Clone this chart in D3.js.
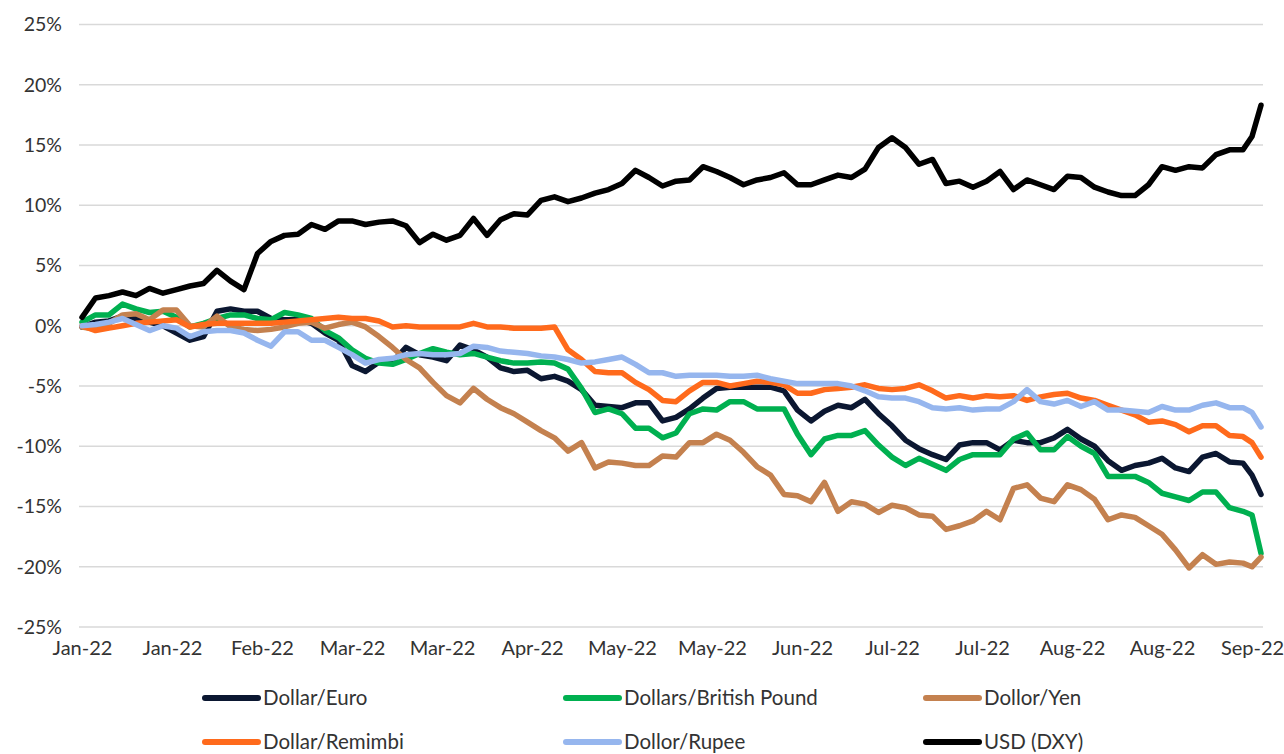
<!DOCTYPE html>
<html>
<head>
<meta charset="utf-8">
<script src="https://cdn.jsdelivr.net/npm/d3@7"></script>
<style>
  html, body { margin: 0; padding: 0; background: #ffffff; }
  svg { display: block; }
  text { font-family: Lato, "Open Sans", sans-serif; fill: #333333; }
</style>
</head>
<body>
<svg id="chart" width="1284" height="754"></svg>
<script>
// ---- data ----
const dates = [
"2022-01-03","2022-01-06","2022-01-09","2022-01-12","2022-01-15","2022-01-18","2022-01-21","2022-01-24","2022-01-27","2022-01-30",
"2022-02-02","2022-02-05","2022-02-08","2022-02-11","2022-02-14","2022-02-17","2022-02-20","2022-02-23","2022-02-26","2022-03-01",
"2022-03-04","2022-03-07","2022-03-10","2022-03-13","2022-03-16","2022-03-19","2022-03-22","2022-03-25","2022-03-28","2022-03-31",
"2022-04-03","2022-04-06","2022-04-09","2022-04-12","2022-04-15","2022-04-18","2022-04-21","2022-04-24","2022-04-27","2022-04-30",
"2022-05-03","2022-05-06","2022-05-09","2022-05-12","2022-05-15","2022-05-18","2022-05-21","2022-05-24","2022-05-27","2022-05-30",
"2022-06-02","2022-06-05","2022-06-08","2022-06-11","2022-06-14","2022-06-17","2022-06-20","2022-06-23","2022-06-26","2022-06-29",
"2022-07-02","2022-07-05","2022-07-08","2022-07-11","2022-07-14","2022-07-17","2022-07-20","2022-07-23","2022-07-26","2022-07-29",
"2022-08-01","2022-08-04","2022-08-07","2022-08-10","2022-08-13","2022-08-16","2022-08-19","2022-08-22","2022-08-25","2022-08-28",
"2022-08-31","2022-09-03","2022-09-06","2022-09-09","2022-09-12","2022-09-15","2022-09-18","2022-09-20","2022-09-22"
];

const dollarEuro = [
-0.1,0.3,0.4,0.8,0.6,0.3,0.0,-0.6,-1.2,-0.9,
1.2,1.4,1.2,1.2,0.6,0.5,0.5,0.2,-0.6,-1.2,
-3.3,-3.8,-3.0,-3.0,-1.8,-2.4,-2.6,-2.9,-1.6,-2.0,
-2.6,-3.5,-3.8,-3.7,-4.4,-4.2,-4.6,-5.3,-6.6,-6.7,
-6.8,-6.4,-6.4,-7.9,-7.6,-6.9,-6.0,-5.2,-5.1,-5.1,
-5.1,-5.1,-5.4,-7.0,-7.9,-7.1,-6.6,-6.8,-6.1,-7.3,
-8.3,-9.5,-10.2,-10.7,-11.1,-9.9,-9.7,-9.7,-10.3,-9.5,
-9.7,-9.7,-9.3,-8.6,-9.4,-10.0,-11.2,-12.0,-11.6,-11.4,
-11.0,-11.8,-12.1,-10.9,-10.6,-11.3,-11.4,-12.4,-14.0
];

const dollarPound = [
0.3,0.9,0.9,1.8,1.4,1.1,1.2,0.7,-0.1,0.2,
0.6,0.9,0.9,0.6,0.5,1.1,0.9,0.6,-0.4,-1.0,
-2.0,-2.7,-3.1,-3.2,-2.8,-2.3,-1.9,-2.2,-2.4,-2.3,
-2.6,-2.9,-3.1,-3.1,-3.0,-3.1,-3.6,-5.2,-7.2,-6.9,
-7.3,-8.5,-8.5,-9.3,-8.9,-7.3,-6.9,-7.0,-6.3,-6.3,
-6.9,-6.9,-6.9,-9.0,-10.7,-9.4,-9.1,-9.1,-8.7,-9.9,
-10.9,-11.6,-11.0,-11.5,-12.0,-11.1,-10.7,-10.7,-10.7,-9.4,
-8.9,-10.3,-10.3,-9.2,-10.0,-10.6,-12.5,-12.5,-12.5,-13.0,
-13.9,-14.2,-14.5,-13.8,-13.8,-15.1,-15.4,-15.7,-18.9
];

const dollarYen = [
-0.1,-0.3,0.2,0.9,1.0,0.5,1.3,1.3,0.0,-0.1,
0.8,-0.1,-0.3,-0.4,-0.3,-0.1,0.2,0.3,-0.2,0.1,
0.3,-0.1,-0.9,-1.8,-2.8,-3.5,-4.7,-5.8,-6.4,-5.2,
-6.1,-6.8,-7.3,-8.0,-8.7,-9.3,-10.4,-9.7,-11.8,-11.3,
-11.4,-11.6,-11.6,-10.8,-10.9,-9.7,-9.7,-9.0,-9.5,-10.5,
-11.7,-12.4,-14.0,-14.1,-14.6,-13.0,-15.4,-14.6,-14.8,-15.5,
-14.9,-15.1,-15.7,-15.8,-16.9,-16.6,-16.2,-15.4,-16.1,-13.5,
-13.2,-14.3,-14.6,-13.2,-13.6,-14.4,-16.1,-15.7,-15.9,-16.6,
-17.3,-18.6,-20.1,-19.0,-19.8,-19.6,-19.7,-20.0,-19.2
];

const dollarRenminbi = [
0.0,-0.4,-0.2,0.0,0.2,0.3,0.4,0.5,-0.1,0.1,
0.2,0.2,0.2,0.2,0.2,0.3,0.4,0.5,0.6,0.7,
0.6,0.6,0.4,-0.1,0.0,-0.1,-0.1,-0.1,-0.1,0.2,
-0.1,-0.1,-0.2,-0.2,-0.2,-0.1,-2.0,-2.8,-3.8,-3.9,
-3.9,-4.7,-5.3,-6.2,-6.3,-5.4,-4.7,-4.7,-5.0,-4.8,
-4.6,-4.7,-4.9,-5.6,-5.6,-5.3,-5.2,-5.1,-4.9,-5.2,
-5.3,-5.2,-4.9,-5.4,-6.0,-5.8,-6.0,-5.8,-5.9,-5.8,
-6.2,-5.9,-5.7,-5.6,-6.0,-6.2,-6.6,-7.0,-7.4,-8.0,
-7.9,-8.2,-8.8,-8.3,-8.3,-9.1,-9.2,-9.7,-10.9
];

const dollarRupee = [
0.0,0.1,0.3,0.6,0.1,-0.4,0.0,-0.2,-0.9,-0.5,
-0.4,-0.4,-0.6,-1.2,-1.7,-0.5,-0.5,-1.2,-1.2,-1.8,
-2.4,-3.1,-2.8,-2.7,-2.4,-2.3,-2.4,-2.4,-2.3,-1.7,
-1.8,-2.1,-2.2,-2.3,-2.5,-2.6,-2.8,-3.1,-3.0,-2.8,
-2.6,-3.2,-3.9,-3.9,-4.2,-4.1,-4.1,-4.1,-4.2,-4.2,
-4.1,-4.4,-4.6,-4.8,-4.8,-4.8,-4.8,-5.0,-5.4,-5.9,
-6.0,-6.0,-6.3,-6.8,-6.9,-6.8,-7.0,-6.9,-6.9,-6.3,
-5.3,-6.3,-6.5,-6.2,-6.7,-6.3,-7.0,-7.0,-7.1,-7.2,
-6.7,-7.0,-7.0,-6.6,-6.4,-6.8,-6.8,-7.2,-8.4
];

const usdDxy = [
0.7,2.3,2.5,2.8,2.5,3.1,2.7,3.0,3.3,3.5,
4.6,3.7,3.0,6.0,7.0,7.5,7.6,8.4,8.0,8.7,
8.7,8.4,8.6,8.7,8.3,6.9,7.6,7.1,7.5,8.9,
7.5,8.8,9.3,9.2,10.4,10.7,10.3,10.6,11.0,11.3,
11.8,12.9,12.3,11.6,12.0,12.1,13.2,12.8,12.3,11.7,
12.1,12.3,12.7,11.7,11.7,12.1,12.5,12.3,13.0,14.8,
15.6,14.8,13.4,13.8,11.8,12.0,11.5,12.0,12.8,11.3,
12.1,11.7,11.3,12.4,12.3,11.5,11.1,10.8,10.8,11.7,
13.2,12.9,13.2,13.1,14.2,14.6,14.6,15.7,18.3
];

const seriesNames = ["Dollar/Euro","Dollars/British Pound","Dollor/Yen","Dollar/Remimbi","Dollor/Rupee","USD (DXY)"];
const seriesColors = ["#0b1731","#00b050","#c4814f","#ff6a1c","#96b6ee","#000000"];
const seriesValues = [dollarEuro, dollarPound, dollarYen, dollarRenminbi, dollarRupee, usdDxy];

const yTicks = [25,20,15,10,5,0,-5,-10,-15,-20,-25];
const xTickDates = ["2022-01-03","2022-01-23","2022-02-12","2022-03-04","2022-03-24","2022-04-13","2022-05-03","2022-05-23","2022-06-12","2022-07-02","2022-07-22","2022-08-11","2022-08-31","2022-09-20"];

// ---- chart ----
const parse = d3.timeParse("%Y-%m-%d");
const fmt = d3.timeFormat("%b-%y");
const svg = d3.select("#chart");

const x = d3.scaleTime()
  .domain([parse("2022-01-03"), parse("2022-09-22")])
  .range([82, 1261]);
const y = d3.scaleLinear().domain([-25, 25]).range([627, 24.5]);

// gridlines
svg.append("g").selectAll("line").data(yTicks).join("line")
  .attr("x1", 79).attr("x2", 1263)
  .attr("y1", d => y(d)).attr("y2", d => y(d))
  .attr("stroke", "#d9d9d9").attr("stroke-width", 1.5);

// y axis labels
const yAxis = d3.axisLeft(y).tickValues(yTicks).tickSize(0).tickPadding(0)
  .tickFormat(d => d + "%");
svg.append("g").attr("transform", "translate(62,0)").call(yAxis)
  .call(g => g.select(".domain").remove())
  .selectAll("text").style("font-size", "19.5px").attr("fill", "#333333")
  .style("font-family", "Lato, sans-serif");

// x axis labels
const xAxis = d3.axisBottom(x).tickValues(xTickDates.map(parse)).tickSize(0).tickPadding(0)
  .tickFormat(fmt);
svg.append("g").attr("transform", "translate(0,641)").call(xAxis)
  .call(g => g.select(".domain").remove())
  .selectAll("text").style("font-size", "20px").attr("fill", "#333333")
  .style("font-family", "Lato, sans-serif");

// lines
const line = d3.line()
  .x((d, i) => x(parse(dates[i])))
  .y(d => y(d));

svg.append("g").selectAll("path").data(seriesValues).join("path")
  .attr("d", d => line(d))
  .attr("fill", "none")
  .attr("stroke", (d, i) => seriesColors[i])
  .attr("stroke-width", 5.5)
  .attr("stroke-linejoin", "round")
  .attr("stroke-linecap", "round");

// legend
const legendCols = [205, 566, 926];
const legendRows = [698, 742];
const lg = svg.append("g").selectAll("g").data(seriesNames).join("g")
  .attr("transform", (d, i) => `translate(${legendCols[i % 3]},${legendRows[Math.floor(i / 3)]})`);
lg.append("line").attr("x1", 0).attr("x2", 53).attr("y1", 0).attr("y2", 0)
  .attr("stroke", (d, i) => seriesColors[i]).attr("stroke-width", 6)
  .attr("stroke-linecap", "round");
lg.append("text").attr("x", 58).attr("y", 0).attr("dy", "0.35em")
  .style("font-size", "20.5px").text(d => d);
</script>
</body>
</html>
